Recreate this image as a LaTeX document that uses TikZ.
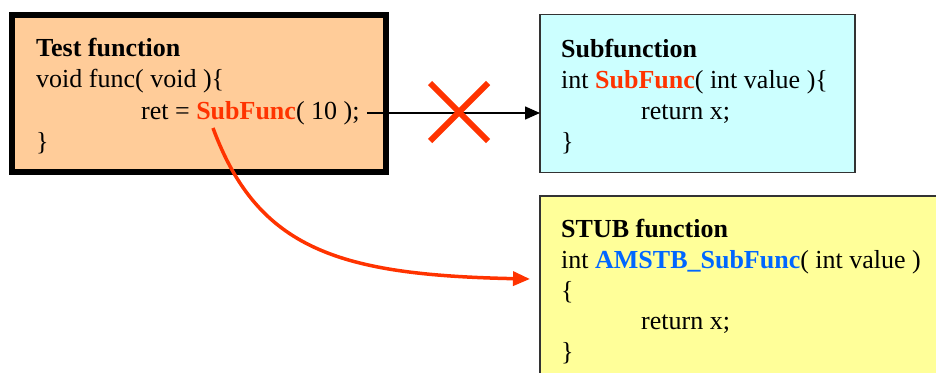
\documentclass[tikz,border=0pt]{standalone}
\usepackage{fontspec}
\setmainfont{Liberation Serif}
\usetikzlibrary{arrows.meta}
\definecolor{callred}{HTML}{FF3300}
\definecolor{stubblue}{HTML}{0066FF}
\definecolor{testfill}{HTML}{FFCC99}
\definecolor{subfill}{HTML}{CCFFFF}
\definecolor{stubfill}{HTML}{FFFF99}
\definecolor{frame}{HTML}{333333}
\tikzset{
  codebox/.style={rectangle, inner sep=0pt, outer sep=0pt},
  code/.style={anchor=base west, inner sep=0pt, font=\fontsize{26}{31}\selectfont},
  callarrow/.style={black, line width=1.5pt, -{Triangle[length=15pt,width=13pt]}},
  stubarrow/.style={callred, line width=3.5pt, -{Triangle[length=17pt,width=14pt]}},
  cross/.style={callred, line width=6pt},
}
\begin{document}
\begin{tikzpicture}[x=1pt, y=-1pt]
\useasboundingbox (0,0) rectangle (936,372);

% boxes
\node[codebox, draw=black, line width=5.5pt, fill=testfill,
      minimum width=374pt, minimum height=157.3pt] (test) at (199,93.4) {};
\node[codebox, draw=frame, line width=1.5pt, fill=subfill,
      minimum width=315pt, minimum height=158.4pt] (sub) at (697.5,93.5) {};
\node[codebox, draw=frame, line width=1.5pt, fill=stubfill,
      minimum width=410pt, minimum height=194pt] (stub) at (745,293) {};

% test function
\node[code] (tTitle) at (36,56) {\textbf{Test function}};
\node[code] (tSig)   at (36,87) {void func( void )\{};
\node[code] (tCall)  at (141,119) {ret = \textcolor{callred}{\textbf{SubFunc}}( 10 );};
\node[code] (tEnd)   at (36,150) {\}};

% subfunction
\node[code] (sTitle) at (561,57) {\textbf{Subfunction}};
\node[code] (sSig)   at (561,88) {int \textcolor{callred}{\textbf{SubFunc}}( int value )\{};
\node[code] (sRet)   at (641,119) {return x;};
\node[code] (sEnd)   at (561,150) {\}};

% stub function
\node[code] (bTitle) at (561,237) {\textbf{STUB function}};
\node[code] (bSig)   at (561,268) {int \textcolor{stubblue}{\textbf{AMSTB\_SubFunc}}( int value )};
\node[code] (bOpen)  at (561,299) {\{};
\node[code] (bRet)   at (641,329) {return x;};
\node[code] (bEnd)   at (561,360) {\}};

% direct call (blocked)
\coordinate (callout) at ([shift={(7pt,6pt)}]tCall.base east);
\draw[callarrow] (callout) -- (sub.west |- callout);
\draw[cross] (430,83) -- (488,141);
\draw[cross] (488,83) -- (430,141);

% redirected call to the stub
\coordinate (callsrc) at (213,128);
\coordinate (stubin) at (530,279);
\draw[stubarrow] (callsrc) .. controls (258,250) and (340,275) .. (stubin);
\end{tikzpicture}
\end{document}
